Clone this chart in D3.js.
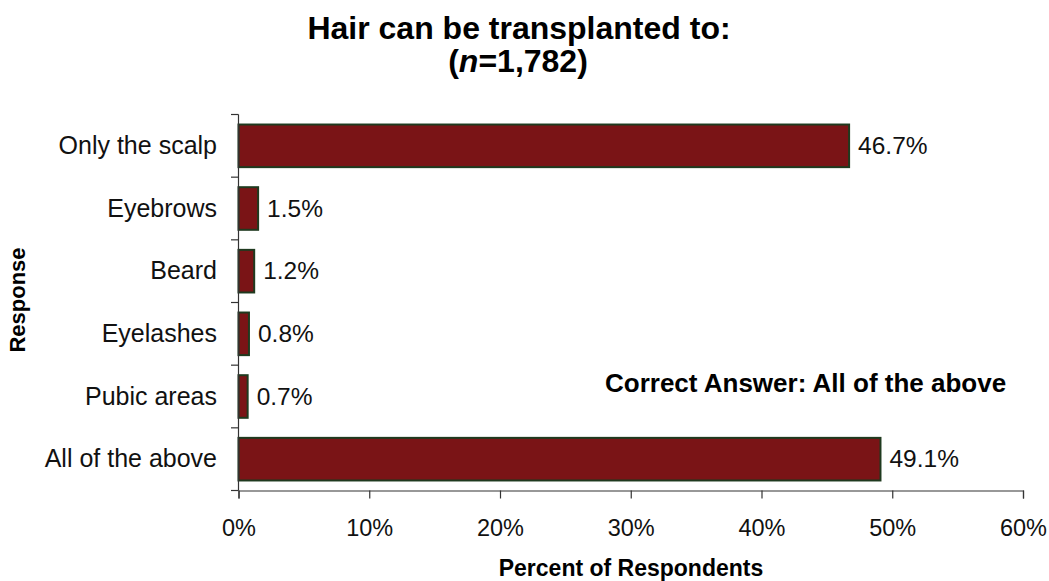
<!DOCTYPE html>
<html><head><meta charset="utf-8">
<script src="https://cdn.jsdelivr.net/npm/d3@7"></script>
<style>body{margin:0;background:#fff}text{font-family:"Liberation Sans",Arial,sans-serif}</style>
</head><body><svg id="c" width="1049" height="581"></svg>
<script>
const categories = ["Only the scalp","Eyebrows","Beard","Eyelashes","Pubic areas","All of the above"];
const values = [46.7,1.5,1.2,0.8,0.7,49.1];
const xTicks = [0,10,20,30,40,50,60];

const svg = d3.select("#c");
const x = d3.scaleLinear().domain([0,60]).range([238.5,1023]);
const y = d3.scaleBand().domain(categories).range([114.5,490.5]).paddingInner(0.32).paddingOuter(0.16);

// bars
svg.selectAll("rect.bar").data(values).join("rect")
  .attr("x", x(0)).attr("y",(d,i)=>y(categories[i]))
  .attr("width", d=>x(d)-x(0)).attr("height", y.bandwidth())
  .attr("fill","#7a1416").attr("stroke","#1f3a1f").attr("stroke-width",2);

// value labels
svg.selectAll("text.val").data(values).join("text")
  .attr("x", d=>x(d)+9).attr("y",(d,i)=>y(categories[i])+y.bandwidth()/2+8)
  .attr("font-size",24.5).attr("fill","#111").text(d=>d.toFixed(1)+"%");

// y axis
const step = y.step();
const yAxis = svg.append("g");
yAxis.append("line").attr("x1",238.5).attr("x2",238.5).attr("y1",114.5).attr("y2",490.5).attr("stroke","#333").attr("stroke-width",1.2);
d3.range(categories.length+1).forEach(i=>{
  const yy = 114.5 + i*step;
  yAxis.append("line").attr("x1",231).attr("x2",238.5).attr("y1",yy).attr("y2",yy).attr("stroke","#333").attr("stroke-width",1.2);
});
svg.selectAll("text.cat").data(categories).join("text")
  .attr("x",217).attr("y",d=>y(d)+y.bandwidth()/2+8).attr("text-anchor","end")
  .attr("font-size",25).attr("fill","#111").text(d=>d);

// x axis
const xAxis = d3.axisBottom(x).tickValues(xTicks).tickFormat(d=>d+"%").tickSize(8);
const gx = svg.append("g").attr("transform","translate(0,490.5)").call(xAxis);
gx.select(".domain").attr("stroke","#333").attr("stroke-width",1.2);
gx.selectAll(".tick line").attr("stroke","#333").attr("stroke-width",1.2);
gx.selectAll(".tick text").attr("y",45.5).attr("dy",0).attr("font-size",23.5).attr("fill","#111").attr("font-family","'Liberation Sans',Arial,sans-serif");

// titles
svg.append("text").attr("x",519).attr("y",39).attr("text-anchor","middle").attr("font-size",32).attr("font-weight","bold").text("Hair can be transplanted to:");
const t2 = svg.append("text").attr("x",518).attr("y",72).attr("text-anchor","middle").attr("font-size",32).attr("font-weight","bold");
t2.append("tspan").text("(");
t2.append("tspan").attr("font-style","italic").text("n");
t2.append("tspan").text("=1,782)");

svg.append("text").attr("x",631).attr("y",576).attr("text-anchor","middle").attr("font-size",23).attr("font-weight","bold").text("Percent of Respondents");
svg.append("text").attr("transform","translate(25,300) rotate(-90)").attr("text-anchor","middle").attr("font-size",22).attr("font-weight","bold").text("Response");
svg.append("text").attr("x",605).attr("y",392).attr("font-size",26).attr("font-weight","bold").text("Correct Answer: All of the above");
</script></body></html>
